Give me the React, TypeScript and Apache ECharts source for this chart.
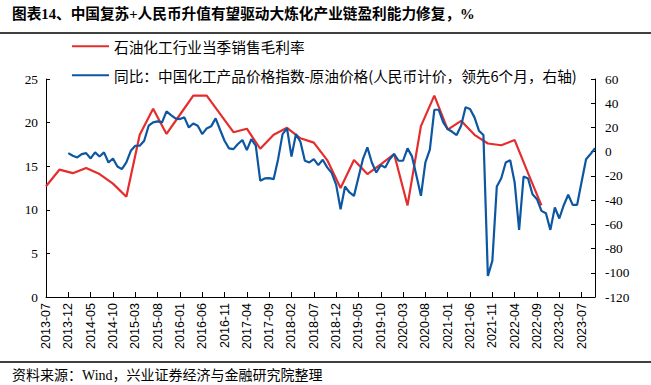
import React, { useEffect, useRef } from "react";
import * as echarts from "echarts";

const TITLE = "图表14、中国复苏+人民币升值有望驱动大炼化产业链盈利能力修复，%";
const SOURCE = "资料来源：Wind，兴业证券经济与金融研究院整理";
const RED_NAME = "石油化工行业当季销售毛利率";
const BLUE_NAME = "同比：中国化工产品价格指数-原油价格(人民币计价，领先6个月，右轴)";

// monthly categories 2013-07 .. 2023-10
const START_YEAR = 2013;
const START_MONTH = 7;
const MONTH_COUNT = 124;
const months: string[] = [];
for (let k = 0; k < MONTH_COUNT; k++) {
  const m = START_MONTH - 1 + k;
  const y = START_YEAR + Math.floor(m / 12);
  const mm = (m % 12) + 1;
  months.push(`${y}-${mm < 10 ? "0" + mm : mm}`);
}

// quarterly gross margin (%), one value every 3 months from 2013-07
const redValues = [
  12.7, 14.6, 14.2, 14.8, 14.1, 13.0, 11.5, 18.6, 21.6, 18.7, 20.9, 23.1, 23.1,
  21.0, 18.9, 19.3, 17.0, 18.6, 19.4, 18.2, 17.7, 15.7, 12.5, 15.7, 14.1, 15.2,
  16.4, 10.5, 19.6, 23.1, 19.2, 20.2, 18.6, 17.6, 17.4, 18.0, 14.2, 10.5,
];

// monthly YoY spread (%), from 2013-12
const BLUE_START = 5;
const blueValues = [
  -1.2, -3.4, -4.8, -2, -1.2, -5.6, -0.6, -4, -0.6, -8.9, -5.6, -12.2, -14.4,
  -8.9, 0.7, 4.9, 4.9, 9, 21.4, 24.2, 25, 24.2, 33.3, 30.2, 27.5, 26.9, 28.3,
  20, 23.3, 21.4, 14.5, 19.2, 20.9, 27.5, 18.1, 9, 2.7, 2.1, 6.3, 9.6, 1.3,
  10.4, 4.9, -24, -22.1, -21.9, -22.7, -6.2, 14.5, 19.2, -4, 14.5, 8.2, -7.5,
  -8.9, -6.2, -11.1, -6.7, -13, -17.5, -27.2, -47.5, -28.8, -33.7, -36.5,
  -21.3, -6.2, 3.5, -8.9, -17.2, -11.1, -13, -6.2, -2, -7.5, -7.5, 2.7, -3.9,
  -19.9, -36.5, -8.9, 1.6, 34.6, 34.6, 24.2, 18.7, 16.4, 13.7, 21.4, 36.6,
  35.2, 28.3, 17.3, 13.7, -102.6, -90.2, -28.8, -21.9, -8.9, -7, -25.4, -64.6,
  -20.5, -22.1, -35.1, -39.2, -48.9, -50.8, -64.6, -46.1, -55.2, -44.2, -35.6,
  -43.9, -43.9, -24.9, -6.2, -2, 2.9,
];

const leftTicks = { min: 0, max: 25, interval: 5 };
const rightTicks = { min: -120, max: 60, interval: 20 };

const RED = "#E52D2D";
const BLUE = "#0C56A2";
const CJK = "Noto Sans CJK SC";
const MIXED = "Liberation Serif, Noto Sans CJK SC";

export default function App() {
  const ref = useRef<HTMLDivElement>(null);
  useEffect(() => {
    document.body.style.margin = "0";
    const chart = echarts.init(ref.current!, null, { renderer: "svg", width: 651, height: 385 });
    const redData = redValues.map((v, k) => [months[k * 3], v]);
    const blueData = blueValues.map((v, k) => [months[BLUE_START + k], v]);
    const axisLabelCommon = { fontSize: 13.33, fontFamily: "Liberation Serif", color: "#000" };
    const legendText = { fontSize: 14.67, fontFamily: CJK, color: "#000" };
    chart.setOption({
      animation: false,
      backgroundColor: "#fff",
      grid: { left: 46, right: 56, top: 79, bottom: 88, containLabel: false, outerBoundsMode: "none" },
      legend: [
        {
          left: 72, top: 39, data: [RED_NAME], icon: "rect", itemWidth: 37, itemHeight: 2,
          textStyle: legendText, selectedMode: false, padding: 0,
        },
        {
          left: 72, top: 68, data: [BLUE_NAME], icon: "rect", itemWidth: 37, itemHeight: 2,
          textStyle: legendText, selectedMode: false, padding: 0,
        },
      ],
      xAxis: {
        type: "category",
        data: months,
        boundaryGap: false,
        axisLine: { lineStyle: { color: "#000", width: 1 } },
        axisTick: { inside: true, length: 5, interval: 4, lineStyle: { color: "#000" } },
        axisLabel: {
          interval: 4, rotate: 90, fontSize: 12.5, fontFamily: "Liberation Sans",
          color: "#000", margin: 6,
        },
        splitLine: { show: false },
      },
      yAxis: [
        {
          type: "value", position: "left", ...leftTicks,
          axisLine: { show: true, lineStyle: { color: "#000", width: 1 } },
          axisTick: { show: true, inside: true, length: 4, lineStyle: { color: "#000" } },
          axisLabel: { ...axisLabelCommon, margin: 8 },
          splitLine: { show: false },
        },
        {
          type: "value", position: "right", ...rightTicks,
          axisLine: { show: true, lineStyle: { color: "#000", width: 1 } },
          axisTick: { show: true, inside: true, length: 4, lineStyle: { color: "#000" } },
          axisLabel: { ...axisLabelCommon, margin: 10 },
          splitLine: { show: false },
        },
      ],
      series: [
        {
          name: RED_NAME, type: "line", yAxisIndex: 0, data: redData, symbol: "none",
          lineStyle: { color: RED, width: 2.2 }, itemStyle: { color: RED },
        },
        {
          name: BLUE_NAME, type: "line", yAxisIndex: 1, data: blueData, symbol: "none",
          lineStyle: { color: BLUE, width: 2.2 }, itemStyle: { color: BLUE },
        },
      ],
      graphic: [
        {
          type: "text",
          style: { x: 12, y: 14, text: TITLE, verticalAlign: "middle", font: `bold 14.67px ${MIXED}`, fill: "#000" },
        },
        { type: "line", shape: { x1: 0, y1: 33, x2: 651, y2: 33 }, style: { stroke: "#000", lineWidth: 1.5 } },
        { type: "line", shape: { x1: 0, y1: 362, x2: 651, y2: 362 }, style: { stroke: "#000", lineWidth: 1.5 } },
        {
          type: "text",
          style: { x: 12, y: 375, text: SOURCE, verticalAlign: "middle", font: `14px ${MIXED}`, fill: "#000" },
        },
      ],
    });
    return () => chart.dispose();
  }, []);
  return <div ref={ref} style={{ position: "fixed", left: 0, top: 0, width: 651, height: 385 }} />;
}
